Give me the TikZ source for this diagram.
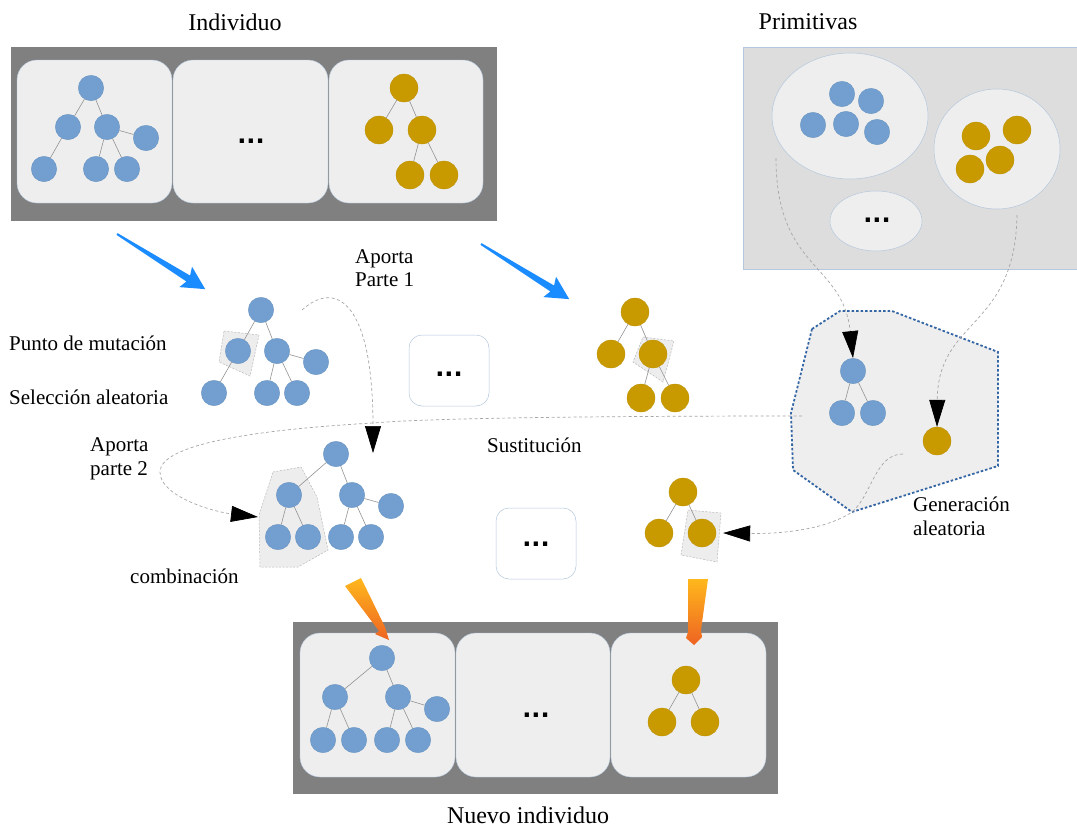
\documentclass[tikz,border=0pt]{standalone}
\usepackage{fontspec}
\setmainfont{Liberation Serif}
\newfontfamily\dotfont{DejaVu Sans}
\usetikzlibrary{arrows.meta}

\definecolor{nodeblue}{HTML}{729FCF}
\definecolor{nodegold}{HTML}{C99A00}
\definecolor{panelfill}{HTML}{EEEEEE}
\definecolor{framegray}{HTML}{808080}
\definecolor{primfill}{HTML}{DDDDDD}
\definecolor{softline}{HTML}{B4C7DC}
\definecolor{hexline}{HTML}{3465A4}
\definecolor{arrowblue}{HTML}{1A8CFF}
\definecolor{guidegray}{HTML}{A6A6A6}
\definecolor{orangetop}{HTML}{FFB81C}
\definecolor{orangebot}{HTML}{EE6322}

\tikzset{
  bn/.style={circle, fill=nodeblue, draw=nodeblue!92!black, line width=0.3pt,
             minimum size=25.5pt, inner sep=0pt},
  gn/.style={circle, fill=nodegold, draw=nodegold!92!black, line width=0.3pt,
             minimum size=28pt, inner sep=0pt},
  branch/.style={draw=gray!85, line width=0.6pt},
  panel/.style={fill=panelfill, draw=softline, line width=0.4pt, rounded corners=20pt},
  dotsbox/.style={draw=softline, fill=white, line width=0.5pt, rounded corners=13pt,
                  minimum width=80pt, minimum height=71pt, inner sep=0pt},
  dots/.style={font=\dotfont\bfseries\fontsize{24}{24}\selectfont, inner sep=0pt},
  lbl/.style={font=\fontsize{21}{24}\selectfont, inner sep=0pt, align=left},
  ttl/.style={font=\fontsize{24}{26}\selectfont, inner sep=0pt},
  guide/.style={draw=guidegray, line width=0.7pt, dash pattern=on 3pt off 2.5pt},
  pointer/.style={-{Triangle[length=27pt,width=16pt,color=black]}},
  hl/.style={fill=gray!14, draw=gray!55, line width=0.5pt, dash pattern=on 2pt off 1.5pt},
  ellbox/.style={fill=panelfill, draw=softline, line width=0.5pt},
  bluearrow/.pic={
    \fill[arrowblue] (0,1) -- (84,3.5) -- (81,12) -- (104,0) -- (81,-12)
      -- (84,-3.5) -- (0,-1) -- cycle;},
  orangearrow/.style={top color=orangetop, bottom color=orangebot, draw=none}
}

\begin{document}
\begin{tikzpicture}[x=1pt, y=-1pt]
\path[use as bounding box, fill=white] (0,0) rectangle (1077,830);

% ---------- Individuo ----------
\node[ttl] (tIndividuo) at (235,22) {Individuo};
\fill[framegray] (11,47) rectangle (497,221);
\draw[panel] (17,60) rectangle (172,203);
\draw[panel] (173,60) rectangle (328,203);
\draw[panel] (329,60) rectangle (483,203);
\node[dots] (topdots) at (251,141) {...};

\node[bn] (ar) at (91,88) {};
\node[bn] (aa) at (68,127) {};
\node[bn] (ab) at (107,127) {};
\node[bn] (ac) at (146,138) {};
\node[bn] (ad) at (44,169) {};
\node[bn] (ae) at (96,169) {};
\node[bn] (af) at (127,169) {};
\draw[branch] (ar) -- (aa) (ar) -- (ab) (aa) -- (ad) (ab) -- (ae) (ab) -- (af) (ab) -- (ac);

\node[gn] (br) at (404,88) {};
\node[gn] (ba) at (379,130) {};
\node[gn] (bb) at (422,130) {};
\node[gn] (bc) at (410,175) {};
\node[gn] (bd) at (444,175) {};
\draw[branch] (br) -- (ba) (br) -- (bb) (bb) -- (bc) (bb) -- (bd);

% ---------- Primitivas ----------
\node[ttl] (tPrim) at (808,22) {Primitivas};
\fill[primfill, draw=softline, line width=0.5pt] (743,47) rectangle (1077,269);
\draw[ellbox] (850,116) ellipse [x radius=78, y radius=63];
\draw[ellbox] (997,149) ellipse [x radius=63, y radius=60];
\draw[ellbox] (876,221) ellipse [x radius=46, y radius=30];
\node[dots] (primdots) at (877,220) {...};
\node[bn] (p1) at (842,94) {};
\node[bn] (p2) at (871,101) {};
\node[bn] (p3) at (813,125) {};
\node[bn] (p4) at (846,124) {};
\node[bn] (p5) at (877,132) {};
\node[gn] (q1) at (976,136) {};
\node[gn] (q2) at (1017,130) {};
\node[gn] (q3) at (1000,160) {};
\node[gn] (q4) at (970,169) {};

% ---------- blue arrows ----------
\pic[rotate=-32] at (117,234) {bluearrow};
\pic[rotate=-32] at (481,244) {bluearrow};

% ---------- mutation / selection ----------
\node[lbl, anchor=base west] (lPunto) at (9,350) {Punto de mutación};
\node[lbl, anchor=base west] (lSel) at (9,404) {Selección aleatoria};
\node[lbl, anchor=base west, font=\fontsize{21}{23}\selectfont] (lAp1) at (355,286) {Aporta\\Parte 1};

\filldraw[hl] (224,331) -- (259,335) -- (250,376) -- (219,362) -- cycle;
\node[bn] (cr) at (261,310) {};
\node[bn] (ca) at (238,351) {};
\node[bn] (cb) at (277,351) {};
\node[bn] (cc) at (316,362) {};
\node[bn] (cd) at (214,393) {};
\node[bn] (ce) at (267,393) {};
\node[bn] (cf) at (297,393) {};
\draw[branch] (cr) -- (ca) (cr) -- (cb) (ca) -- (cd) (cb) -- (ce) (cb) -- (cf) (cb) -- (cc);

\node[dotsbox] (midbox) at (449,370.5) {};
\node[dots] (middots) at (449,374) {...};

\filldraw[hl] (643,337) -- (674,341) -- (663,382) -- (633,362) -- cycle;
\node[gn] (dr) at (635,312) {};
\node[gn] (da) at (611,354) {};
\node[gn] (db) at (653,354) {};
\node[gn] (dc) at (641,398) {};
\node[gn] (dd) at (675,398) {};
\draw[branch] (dr) -- (da) (dr) -- (db) (db) -- (dc) (db) -- (dd);

% ---------- random generation region ----------
\filldraw[fill=panelfill, draw=hexline, line width=1.8pt, dash pattern=on 2.5pt off 2pt]
  (812,329) -- (840,311) -- (892,311) -- (998,352) -- (998,466) -- (852,512)
  -- (793,470) -- (791,413) -- cycle;
\node[bn] (hr) at (853,371) {};
\node[bn] (ha) at (842,413) {};
\node[bn] (hb) at (873,413) {};
\draw[branch] (hr) -- (ha) (hr) -- (hb);
\node[gn] (hg) at (937,441) {};

% ---------- combination ----------
\node[lbl, anchor=base west] (lSust) at (487,452) {Sustitución};
\node[lbl, anchor=base west] (lAp2) at (90,475) {Aporta\\parte 2};
\node[lbl, anchor=base west] (lComb) at (130,583) {combinación};
\node[lbl, anchor=base west] (lGen) at (913,535) {Generación\\aleatoria};

\filldraw[hl] (273,472) -- (301,467) -- (317,497) -- (328,550) -- (298,567)
  -- (260,567) -- (259,515) -- cycle;
\node[bn] (er) at (336,454) {};
\node[bn] (ea) at (289,495) {};
\node[bn] (eb) at (352,495) {};
\node[bn] (ec) at (391,506) {};
\node[bn] (ed) at (278,537) {};
\node[bn] (ee) at (308,537) {};
\node[bn] (ef) at (341,537) {};
\node[bn] (eg) at (371,537) {};
\draw[branch] (er) -- (ea) (er) -- (eb) (ea) -- (ed) (ea) -- (ee) (eb) -- (ef) (eb) -- (eg) (eb) -- (ec);

\node[dotsbox] (lowbox) at (536,543.5) {};
\node[dots] (lowdots) at (536,544) {...};

\filldraw[hl] (688,510) -- (721,513) -- (717,562) -- (681,555) -- cycle;
\node[gn] (fr) at (683,492) {};
\node[gn] (fa) at (659,533) {};
\node[gn] (fb) at (702,533) {};
\draw[branch] (fr) -- (fa) (fr) -- (fb);

% ---------- dashed guides ----------
\coordinate (s1) at (776,158);
\coordinate (s2) at (1017,215);
\coordinate (s3) at (903,454);
\coordinate (s4) at (802,416);
\coordinate (s5) at (302,310);
\coordinate (t5) at (373,453);
\coordinate (t4) at (258,517);

\draw[guide, pointer] (s1) .. controls (776,270) and (843,262) .. (hr.north);
\draw[guide, pointer] (s2) .. controls (1015,330) and (938,318) .. (hg.north);
\draw[guide, pointer] (s3) .. controls (875,454) and (872,495) .. (852,512)
  .. controls (825,530) and (780,534) .. ([xshift=7pt]fb.east);
\draw[guide, pointer] (s4) .. controls (600,416) and (430,418) .. (373,423)
  .. controls (250,430) and (160,445) .. (160,472)
  .. controls (160,497) and (215,512) .. (t4);
\draw[guide, pointer] (s5) .. controls (335,280) and (373,300) .. (t5);

% ---------- Nuevo individuo ----------
\fill[framegray] (293,622) rectangle (778,794);
\draw[panel] (300,633) rectangle (455,777);
\draw[panel] (456,633) rectangle (610,777);
\draw[panel] (611,633) rectangle (766,777);
\node[dots] (botdots) at (536,715) {...};

\node[bn] (gr) at (382,658) {};
\node[bn] (ga) at (335,697) {};
\node[bn] (gb) at (398,697) {};
\node[bn] (gc) at (437,709) {};
\node[bn] (gd) at (323,740) {};
\node[bn] (ge) at (354,740) {};
\node[bn] (gf) at (387,740) {};
\node[bn] (gg) at (418,740) {};
\draw[branch] (gr) -- (ga) (gr) -- (gb) (ga) -- (gd) (ga) -- (ge) (gb) -- (gf) (gb) -- (gg) (gb) -- (gc);

\node[gn] (kr) at (686,680) {};
\node[gn] (ka) at (662,722) {};
\node[gn] (kb) at (705,722) {};
\draw[branch] (kr) -- (ka) (kr) -- (kb);

\node[ttl] (tNuevo) at (528,815) {Nuevo individuo};

% ---------- orange arrows into the new individual ----------
\shade[orangearrow] (345,586) -- (361,578) -- (385,627) -- (389,640) -- (375,634) -- (379,631) -- cycle;
\shade[orangearrow] (688,579) -- (708,579) -- (701,630) -- (702,637) -- (694,645) -- (686,638) -- (688,632) -- cycle;
\end{tikzpicture}
\end{document}
